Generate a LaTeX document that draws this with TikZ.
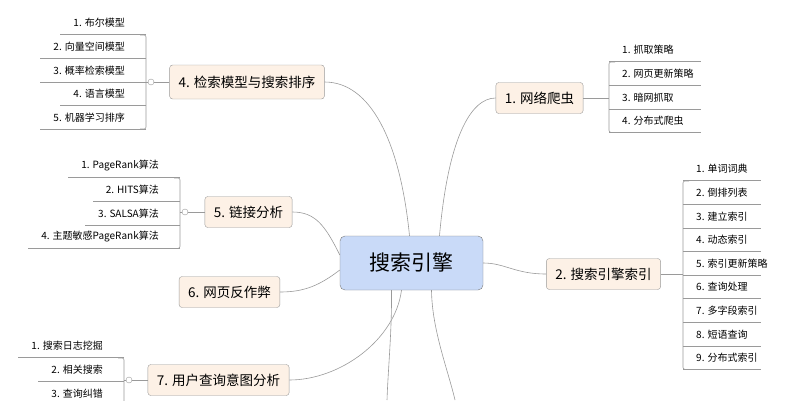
\documentclass[tikz,border=0pt]{standalone}
\usepackage{fontspec}
\setmainfont{Noto Sans CJK SC}
\usetikzlibrary{calc,positioning}
\definecolor{topicfill}{HTML}{FDF1E6}
\definecolor{rootfill}{HTML}{C9DAF8}
\definecolor{edgegray}{HTML}{9A9A9A}
\tikzset{
  topic/.style={draw=edgegray,fill=topicfill,rounded corners=3pt,font=\fontsize{13.5}{14}\selectfont,inner xsep=9pt,minimum height=31pt},
  root/.style={draw=edgegray!80!black,fill=rootfill,rounded corners=5pt,font=\fontsize{21}{22}\selectfont,minimum width=143pt,minimum height=54pt},
  item/.style={font=\fontsize{10}{11}\selectfont,inner sep=1pt},
  link/.style={draw=edgegray,line width=.6pt},
  knob/.style={circle,draw=edgegray,fill=white,inner sep=0pt,minimum size=6pt}
}
\begin{document}
\begin{tikzpicture}[x=1pt,y=-1pt]
  \useasboundingbox (0,0) rectangle (806,400);
  % main nodes
  \node[root] (se) at (411.5,263) {搜索引擎};
  \node[topic] (t1) at (539.5,98) {1. 网络爬虫};
  \node[topic] (t2) at (603.5,274) {2. 搜索引擎索引};
  \node[topic,minimum height=34pt] (t4) at (247,82) {4. 检索模型与搜索排序};
  \node[topic] (t5) at (248.5,212) {5. 链接分析};
  \node[topic] (t6) at (229.5,292) {6. 网页反作弊};
  \node[topic] (t7) at (218.5,380) {7. 用户查询意图分析};
  \coordinate (d1) at (387,400);
  \coordinate (d2) at (455,400);

  % branches
  \draw[link] (se.north) ++(-2,0) .. controls (400,140) and (370,82) .. (t4.east);
  \draw[link] (se.north) ++(28,0) .. controls (448,140) and (470,98) .. (t1.west);
  \draw[link] (se.west) ++(0,-8) .. controls (325,225) and (315,212) .. (t5.east);
  \draw[link] (se.west) ++(0,7) .. controls (320,285) and (305,292) .. (t6.east);
  \draw[link] (se.south) ++(-10,0) .. controls (395,340) and (340,380) .. (t7.east);
  \draw[link] (se.east) .. controls (505,263) and (515,274) .. (t2.west);
  \draw[link] (se.south) ++(-20,0) .. controls (392,330) and (388,370) .. (d1);
  \draw[link] (se.south) ++(20,0) .. controls (432,330) and (448,370) .. (d2);

  % right lists
  \foreach \tp/\bx/\ys/\len/\list in {t1/609/50/92/{1. 抓取策略,2. 网页更新策略,3. 暗网抓取,4. 分布式爬虫},
      t2/683/169/78/{1. 单词词典,2. 倒排列表,3. 建立索引,4. 动态索引,5. 索引更新策略,6. 查询处理,7. 多字段索引,8. 短语查询,9. 分布式索引}}{
    \coordinate (bb) at (\bx,0);
    \foreach \t [count=\i] in \list {
      \node[item,anchor=west] (\tp i\i) at (\bx+12,\ys+23.6*\i-23.6) {\t};
      \draw[link] (\bx,\ys+23.6*\i-12) -- ++(\len,0);
      \xdef\lastn{\i}
    }
    \draw[link,rounded corners=2pt] (\bx+6,\ys+12) -- (\bx,\ys+12) -- (\bx,\ys+23.6*\lastn-12) -- ++(6,0);
    \draw[link] (\tp.east) -- (\tp.east -| bb);
  }

  % left lists
  \foreach \tp/\bx/\ys/\list in {t4/146/23/{1. 布尔模型,2. 向量空间模型,3. 概率检索模型,4. 语言模型,5. 机器学习排序},
      t5/180/166/{1. PageRank算法,2. HITS算法,3. SALSA算法,4. 主题敏感PageRank算法},
      t7/124/346/{1. 搜索日志挖掘,2. 相关搜索,3. 查询纠错}}{
    \coordinate (bb) at (\bx,0);
    \foreach \t [count=\i] in \list {
      \node[item,anchor=east] (\tp i\i) at (\bx-20,\ys+23.6*\i-23.6) {\t};
      \coordinate (ul) at (\bx,\ys+23.6*\i-12);
      \draw[link] (ul) -- ([xshift=-12pt]ul -| \tp i\i.west);
      \xdef\lastn{\i}
    }
    \draw[link,rounded corners=2pt] (\bx-6,\ys+12) -- (\bx,\ys+12) -- (\bx,\ys+23.6*\lastn-12) -- ++(-6,0);
    \draw[link] (\tp.west) -- (\tp.west -| bb);
    \node[knob] at ([xshift=5pt]\tp.west -| bb) {};
  }
\end{tikzpicture}
\end{document}
